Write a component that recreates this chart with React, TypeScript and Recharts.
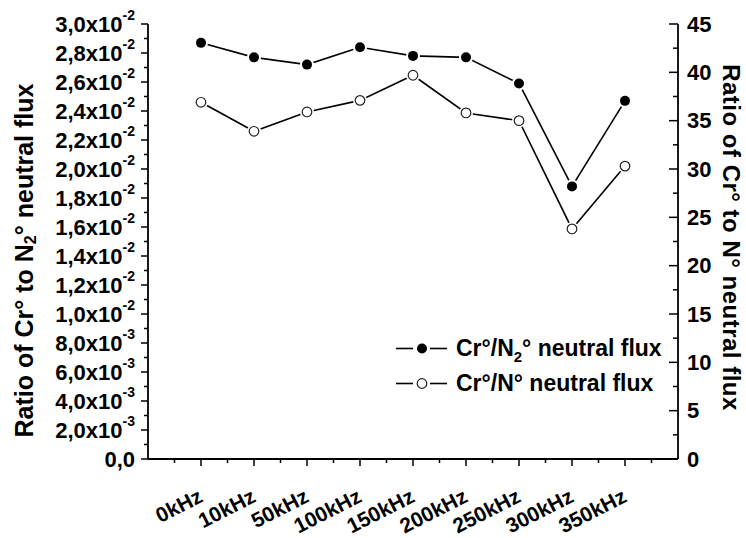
import { LineChart, Line, XAxis, YAxis, Legend } from "recharts";

const FONT = '"Liberation Sans", Arial, Helvetica, sans-serif';

// pulse frequency groups along the x axis
const categories = [
  "0kHz",
  "10kHz",
  "50kHz",
  "100kHz",
  "150kHz",
  "200kHz",
  "250kHz",
  "300kHz",
  "350kHz",
];

// Cr°/N2° neutral flux ratio (left axis)
const crN2Flux = [0.0287, 0.0277, 0.0272, 0.0284, 0.0278, 0.0277, 0.0259, 0.0188, 0.0247];

// Cr°/N° neutral flux ratio (right axis)
const crNFlux = [36.9, 33.9, 35.9, 37.1, 39.7, 35.8, 35.0, 23.8, 30.3];

const leftTicks = Array.from({ length: 31 }, (_, i) => i / 1000);
const rightTicks = Array.from({ length: 19 }, (_, i) => i * 2.5);
const xTicks = Array.from({ length: 19 }, (_, i) => i / 2 - 0.5);

const data = categories.map((name, i) => ({
  x: i,
  name,
  n2: crN2Flux[i],
  n: crNFlux[i],
}));

const AXIS_W = 1.8;

function LeftTick({ x, y, payload }: any) {
  const i = Math.round(payload.value * 1000);
  const major = i % 2 === 0;
  let mant = "";
  let exp = "";
  if (major) {
    if (i === 0) mant = "0,0";
    else if (i >= 10) {
      mant = (i / 10).toFixed(1).replace(".", ",");
      exp = "-2";
    } else {
      mant = i.toFixed(1).replace(".", ",");
      exp = "-3";
    }
  }
  return (
    <g>
      <line x1={x - (major ? 7 : 4)} x2={x} y1={y} y2={y} stroke="#000" strokeWidth={1.5} />
      {major && (
        <text
          x={x - 13}
          y={y}
          textAnchor="end"
          dominantBaseline="central"
          fontFamily={FONT}
          fontWeight="bold"
          fontSize={22}
          fill="#000"
        >
          {exp ? `${mant}x10` : mant}
          {exp && (
            <tspan dy={-9} fontSize={14}>
              {exp}
            </tspan>
          )}
        </text>
      )}
    </g>
  );
}

function RightTick({ x, y, payload }: any) {
  const major = payload.value % 5 === 0;
  return (
    <g>
      <line x1={x - (major ? 9 : 5)} x2={x} y1={y} y2={y} stroke="#000" strokeWidth={1.5} />
      {major && (
        <text
          x={x + 9}
          y={y}
          textAnchor="start"
          dominantBaseline="central"
          fontFamily={FONT}
          fontWeight="bold"
          fontSize={22}
          fill="#000"
        >
          {payload.value}
        </text>
      )}
    </g>
  );
}

function BottomTick({ x, y, payload }: any) {
  const v = payload.value;
  const major = Number.isInteger(v) && v >= 0 && v < categories.length;
  const ax = x + 3;
  const ay = y + 42;
  return (
    <g>
      <line x1={x} x2={x} y1={y} y2={y + (major ? 7 : 4)} stroke="#000" strokeWidth={1.5} />
      {major && (
        <text
          x={ax}
          y={ay}
          transform={`rotate(-27, ${ax}, ${ay})`}
          textAnchor="end"
          fontFamily={FONT}
          fontWeight="bold"
          fontSize={21}
          fill="#000"
        >
          {categories[v]}
        </text>
      )}
    </g>
  );
}

function LeftTitle({ viewBox }: any) {
  const cx = viewBox.x + 24;
  const cy = viewBox.y + viewBox.height / 2 + 19;
  return (
    <text
      x={cx}
      y={cy}
      transform={`rotate(-90, ${cx}, ${cy})`}
      textAnchor="middle"
      dominantBaseline="central"
      fontFamily={FONT}
      fontWeight="bold"
      fontSize={25}
      fill="#000"
    >
      Ratio of Cr° to N
      <tspan dy={6} fontSize={16}>
        2
      </tspan>
      <tspan dy={-6}>° neutral flux</tspan>
    </text>
  );
}

function RightTitle({ viewBox }: any) {
  const cx = viewBox.x + viewBox.width - 15;
  const cy = viewBox.y + viewBox.height / 2 - 4;
  return (
    <text
      x={cx}
      y={cy}
      transform={`rotate(90, ${cx}, ${cy})`}
      textAnchor="middle"
      dominantBaseline="central"
      fontFamily={FONT}
      fontWeight="bold"
      fontSize={24}
      letterSpacing={0.5}
      fill="#000"
    >
      Ratio of Cr° to N° neutral flux
    </text>
  );
}

function filledDot(props: any) {
  const { cx, cy, index } = props;
  return (
    <g key={`f-${index}`}>
      <circle cx={cx} cy={cy} r={7} fill="#fff" />
      <circle cx={cx} cy={cy} r={5} fill="#000" />
    </g>
  );
}

function openDot(props: any) {
  const { cx, cy, index } = props;
  return (
    <g key={`o-${index}`}>
      <circle cx={cx} cy={cy} r={7} fill="#fff" />
      <circle cx={cx} cy={cy} r={4.8} fill="#fff" stroke="#222" strokeWidth={1.2} />
    </g>
  );
}

function legendText(key: string) {
  if (key === "n2") {
    return (
      <>
        Cr°/N
        <span style={{ fontSize: 15, position: "relative", top: 6 }}>2</span>° neutral flux
      </>
    );
  }
  return <>Cr°/N° neutral flux</>;
}

function LegendBox({ payload }: any) {
  return (
    <div style={{ fontFamily: FONT, fontWeight: "bold", fontSize: 23, color: "#000" }}>
      {(payload || []).map((entry: any) => (
        <div key={entry.dataKey} style={{ display: "flex", alignItems: "center", height: 35 }}>
          <svg width={61} height={35} style={{ flexShrink: 0 }}>
            <line x1={1} x2={18} y1={17.5} y2={17.5} stroke="#000" strokeWidth={1.6} />
            <line x1={35} x2={52} y1={17.5} y2={17.5} stroke="#000" strokeWidth={1.6} />
            {entry.dataKey === "n2" ? (
              <circle cx={27} cy={17.5} r={5} fill="#000" />
            ) : (
              <circle cx={27} cy={17.5} r={4.8} fill="#fff" stroke="#222" strokeWidth={1.2} />
            )}
          </svg>
          <span style={{ whiteSpace: "nowrap" }}>{legendText(entry.dataKey)}</span>
        </div>
      ))}
    </div>
  );
}

export default function App() {
  return (
    <div style={{ position: "absolute", left: 0, top: 0, width: 746, height: 538, background: "#fff" }}>
      <LineChart width={746} height={538} data={data} margin={{ top: 24, right: 0, bottom: 0, left: 0 }}>
        <XAxis
          type="number"
          dataKey="x"
          domain={[-1, 9]}
          ticks={xTicks}
          interval={0}
          height={79}
          tickSize={0}
          tickMargin={0}
          tickLine={false}
          axisLine={{ stroke: "#000", strokeWidth: AXIS_W }}
          tick={<BottomTick />}
        />
        <YAxis
          yAxisId="left"
          orientation="left"
          domain={[0, 0.03]}
          ticks={leftTicks}
          interval={0}
          width={148}
          tickSize={0}
          tickMargin={0}
          tickLine={false}
          axisLine={{ stroke: "#000", strokeWidth: AXIS_W }}
          tick={<LeftTick />}
          label={<LeftTitle />}
        />
        <YAxis
          yAxisId="right"
          orientation="right"
          domain={[0, 45]}
          ticks={rightTicks}
          interval={0}
          width={68}
          tickSize={0}
          tickMargin={0}
          tickLine={false}
          axisLine={{ stroke: "#000", strokeWidth: AXIS_W }}
          tick={<RightTick />}
          label={<RightTitle />}
        />
        <Legend
          layout="horizontal"
          align="center"
          verticalAlign="middle"
          content={<LegendBox />}
          wrapperStyle={{ left: 395, top: 331, width: 320 }}
        />
        <Line
          yAxisId="left"
          dataKey="n2"
          name="Cr°/N2° neutral flux"
          stroke="#000"
          strokeWidth={1.6}
          dot={filledDot}
          activeDot={false}
          isAnimationActive={false}
        />
        <Line
          yAxisId="right"
          dataKey="n"
          name="Cr°/N° neutral flux"
          stroke="#000"
          strokeWidth={1.6}
          dot={openDot}
          activeDot={false}
          isAnimationActive={false}
        />
      </LineChart>
    </div>
  );
}
